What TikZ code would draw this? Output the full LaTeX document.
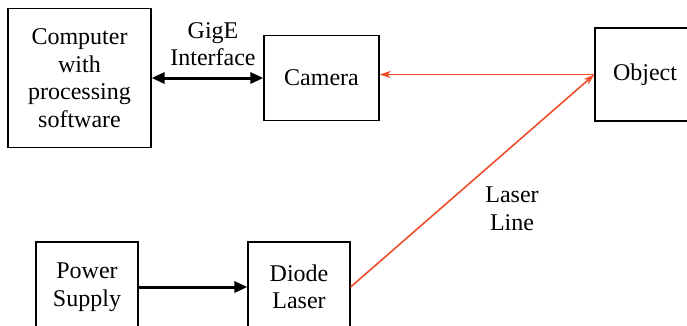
\documentclass[tikz,border=0pt]{standalone}
\usepackage{fontspec}
\setmainfont{Liberation Serif}
\usetikzlibrary{arrows.meta}
\definecolor{laserred}{RGB}{240,78,42}
\tikzset{
	block/.style={draw, line width=1.2pt, align=center, inner sep=0pt, font=\fontsize{24}{27.5}\selectfont},
	lbl/.style={align=center, font=\fontsize{24}{27.5}\selectfont},
	wire/.style={line width=3pt, -{Triangle[length=13pt,width=11pt]}},
	beam/.style={laserred, line width=1.6pt, -{Stealth[length=11pt,width=7pt,inset=3pt]}}
}
\begin{document}
\begin{tikzpicture}[x=1pt, y=-1pt]
	\useasboundingbox (0,0) rectangle (687,325);
	\clip (0,0) rectangle (687,325);
	\node [block, minimum width=143pt, minimum height=139pt] (computer) at (79.5,78) {Computer\\with\\processing\\software};
	\node [block, minimum width=115pt, minimum height=85pt] (camera) at (321.5,78) {Camera};
	\node [block, minimum width=100pt, minimum height=93pt] (object) at (645,74.5) {Object};
	\node [block, minimum width=102pt, minimum height=90pt] (power) at (87,287) {Power\\Supply};
	\node [block, minimum width=102pt, minimum height=90pt] (diode) at (299,287) {Diode\\Laser};
	\node [lbl] (gige) at (213,44) {GigE\\Interface};
	\node [lbl] (laserline) at (512,209) {Laser\\Line};
	\draw [wire, {Triangle[length=13pt,width=11pt]}-{Triangle[length=13pt,width=11pt]}] (computer.east) -- (camera.west);
	\draw [wire] (power.east) -- (diode.west);
	\draw [beam] (object.west) -- (object.west -| camera.east);
	\draw [beam] (diode.east) -- (object.west);
\end{tikzpicture}
\end{document}
